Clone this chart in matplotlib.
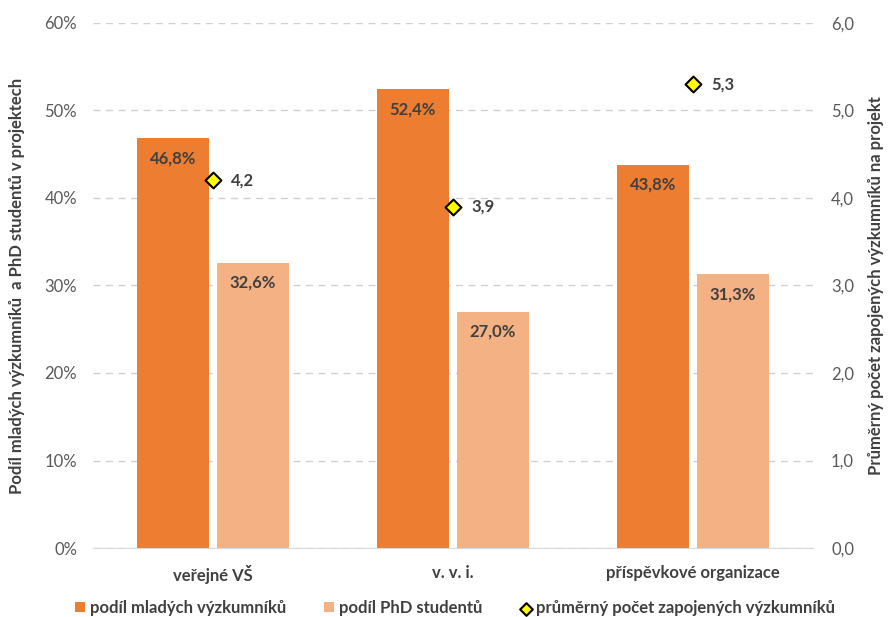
import numpy as np
import matplotlib.pyplot as plt

plt.rcParams['font.family'] = ['Lato', 'DejaVu Sans']

categories = ["veřejné VŠ", "v. v. i.", "příspěvkové organizace"]
mladi = [46.8, 52.4, 43.8]
phd = [32.6, 27.0, 31.3]
prumer = [4.2, 3.9, 5.3]

c_dark = "#ED7D31"
c_light = "#F4B183"
txt = "#404040"

fig = plt.figure(figsize=(8.88, 6.17), dpi=100)
ax = fig.add_axes([0.1047, 0.1118, 0.8108, 0.851])
ax2 = ax.twinx()

x = np.arange(len(categories))
w = 0.3
gap = 0.0167
b1 = ax.bar(x - w / 2 - gap, mladi, w, color=c_dark, label="podíl mladých výzkumníků", zorder=3)
b2 = ax.bar(x + w / 2 + gap, phd, w, color=c_light, label="podíl PhD studentů", zorder=3)

for xi, v in zip(x, mladi):
    ax.text(xi - w / 2 - gap, v - 2.3, f"{v:.1f}%".replace(".", ","), ha="center", va="center",
            fontsize=12, fontweight="bold", color=txt, zorder=4)
for xi, v in zip(x, phd):
    ax.text(xi + w / 2 + gap, v - 2.3, f"{v:.1f}%".replace(".", ","), ha="center", va="center",
            fontsize=12, fontweight="bold", color=txt, zorder=4)

ax.set_xlim(-0.5, 2.5)
ax.set_ylim(0, 60)
ax.set_yticks(range(0, 61, 10))
ax.set_yticklabels([f"{t}%" for t in range(0, 61, 10)])
ax.yaxis.grid(True, linestyle=(0, (5, 4)), color="#D0D0D0", linewidth=1)
ax.set_axisbelow(True)
ax.set_xticks(x)
ax.set_xticklabels(categories, fontsize=12, fontweight="bold", color=txt)
ax.tick_params(axis="x", length=0, pad=12)
ax.tick_params(axis="y", length=0, labelsize=12, labelcolor="#595959", pad=11.5)
for s in ["top", "left", "right"]:
    ax.spines[s].set_visible(False)
ax.spines["bottom"].set_color("#D9D9D9")
ax.set_ylabel("Podíl mladých výzkumníků  a PhD studentů v projektech", fontsize=12,
              fontweight="bold", color=txt, labelpad=14)

d = ax2.scatter(x, prumer, marker="D", s=65, color="#FFFF00", edgecolor="black",
                linewidth=1.5, zorder=5, label="průměrný počet zapojených výzkumníků")
for xi, v in zip(x, prumer):
    ax2.text(xi + 0.075, v, f"{v:.1f}".replace(".", ","), ha="left", va="center",
             fontsize=12, fontweight="bold", color=txt)
ax2.set_ylim(0, 6)
ax2.set_yticks(np.arange(0, 6.1, 1))
ax2.set_yticklabels([f"{t:.1f}".replace(".", ",") for t in np.arange(0, 6.1, 1)])
ax2.tick_params(axis="y", length=0, labelsize=12, labelcolor="#595959", pad=13)
for s in ["top", "left", "right", "bottom"]:
    ax2.spines[s].set_visible(False)
ax2.set_ylabel("Průměrný počet zapojených výzkumníků na projekt", fontsize=12,
               fontweight="bold", color=txt, labelpad=10)

handles = [b1, b2, d]
leg = fig.legend(handles, [h.get_label() for h in handles], loc="center",
                 bbox_to_anchor=(455 / 888, 1 - 608 / 617), ncol=3, frameon=False,
                 handlelength=0.6, handleheight=0.6, handletextpad=0.3, columnspacing=2.3,
                 markerscale=0.8, prop={"size": 12, "weight": "bold"})
for t in leg.get_texts():
    t.set_color(txt)

fig.savefig("out.png", dpi=100)
